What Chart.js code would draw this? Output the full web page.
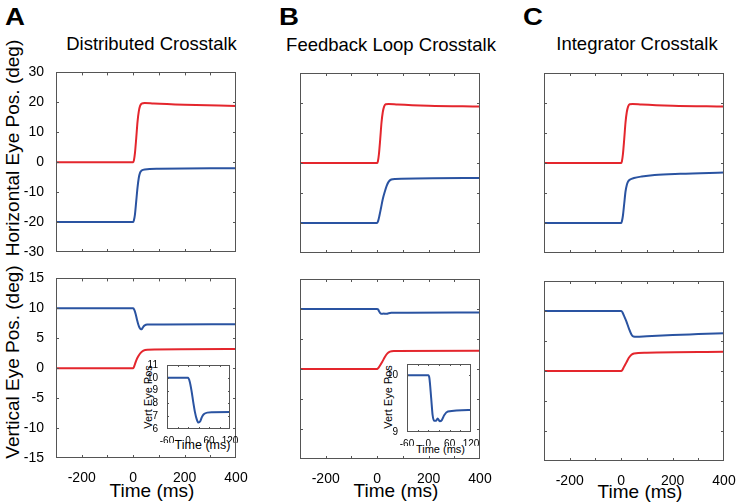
<!DOCTYPE html>
<html lang="en">
<head>
    <meta charset="UTF-8">
    <title>Eye Position Crosstalk</title>
    <script src="https://cdn.jsdelivr.net/npm/chart.js"></script>
    <style>
        body {
            margin: 0;
            width: 737px;
            height: 504px;
            position: relative;
            overflow: hidden;
            background: #fff;
            font-family: Arial, "Liberation Sans", sans-serif;
            color: #000;
        }
        canvas { position: absolute; }
        .lbl {
            position: absolute;
            white-space: nowrap;
            line-height: 1;
            transform: translate(-50%, -50%);
        }
        .rot { transform: translate(-50%, -50%) rotate(-90deg); }
        .letter { font-weight: bold; font-size: 24px; transform: translate(-50%, -50%) scaleX(1.15); }
        .title { font-size: 18.5px; }
        .axis { font-size: 19px; }
    </style>
</head>
<body>
    <div class="lbl letter" style="left:14.5px; top:17px">A</div>
    <div class="lbl letter" style="left:288.5px; top:17px">B</div>
    <div class="lbl letter" style="left:532.5px; top:17px">C</div>

    <div class="lbl title" style="left:151.5px; top:44px">Distributed Crosstalk</div>
    <div class="lbl title" style="left:391px; top:45px">Feedback Loop Crosstalk</div>
    <div class="lbl title" style="left:637px; top:44px">Integrator Crosstalk</div>

    <div class="lbl axis rot" style="left:12px; top:148px">Horizontal Eye Pos. (deg)</div>
    <div class="lbl axis rot" style="left:12px; top:362px">Vertical Eye Pos. (deg)</div>

    <div class="lbl axis" style="left:152px; top:490px">Time (ms)</div>
    <div class="lbl axis" style="left:396px; top:490px">Time (ms)</div>
    <div class="lbl axis" style="left:640px; top:491px">Time (ms)</div>

    <div class="lbl rot" style="left:147.5px; top:397px; font-size:11px">Vert Eye Pos</div>
    <div class="lbl" style="left:202.5px; top:444.5px; font-size:12.5px">Time (ms)</div>
    <div class="lbl rot" style="left:388px; top:397px; font-size:11px">Vert Eye Pos</div>
    <div class="lbl" style="left:440.5px; top:449px; font-size:11px">Time (ms)</div>

    <script>
        // axis ticks
        const timeTicks = [-300, -200, -100, 0, 100, 200, 300, 400];
        const timeLabels = [-200, 0, 200, 400];
        const horizTicks = [-30, -20, -10, 0, 10, 20, 30];
        const vertTicks = [-15, -10, -5, 0, 5, 10, 15];
        const insetTimeTicks = [-60, -30, 0, 30, 60, 90, 120];
        const insetTimeLabels = [-60, 0, 60, 120];
        const insetATicks = [6, 7, 8, 9, 10, 11];
        const insetBTicks = [9, 10];

        // [time (ms), eye position (deg)]
        const distHorizRed = [[-300, 0], [0, 0], [3, 0.6], [7, 3], [12, 8], [17, 13.5], [22, 17], [27, 18.8], [33, 19.6], [45, 19.8], [80, 19.6], [200, 19.2], [400, 18.8]];
        const distHorizBlue = [[-300, -20], [0, -20], [3, -19.4], [7, -17.5], [12, -13], [17, -8.5], [22, -5.2], [27, -3.5], [33, -2.8], [45, -2.4], [100, -2.2], [400, -2.0]];
        const distVertRed = [[-300, 0], [0, 0], [4, 0.3], [8, 0.8], [13, 1.4], [20, 2.0], [30, 2.6], [40, 2.95], [55, 3.1], [400, 3.2]];
        const distVertBlue = [[-300, 10], [0, 10], [5, 9.7], [10, 9.0], [15, 8.1], [20, 7.3], [25, 6.75], [30, 6.5], [35, 6.6], [40, 6.95], [45, 7.15], [55, 7.28], [70, 7.3], [120, 7.32], [400, 7.35]];

        const loopHorizRed = [[-300, 0], [0, 0], [3, 0.6], [7, 3], [12, 8], [17, 13.5], [22, 17], [27, 18.8], [33, 19.6], [45, 19.7], [80, 19.5], [200, 19.1], [400, 18.8]];
        const loopHorizBlue = [[-300, -20], [0, -20], [4, -19.3], [9, -17.5], [15, -15], [22, -12], [30, -9.5], [37, -7.6], [45, -6.2], [55, -5.5], [70, -5.3], [400, -5.0]];
        const loopVertRed = [[-300, 0], [0, 0], [5, 0.2], [10, 0.5], [20, 1.2], [30, 2.0], [40, 2.6], [50, 2.9], [65, 3.0], [400, 3.05]];
        const loopVertBlue = [[-300, 10], [0, 10], [3, 9.95], [8, 9.6], [12, 9.3], [16, 9.2], [22, 9.2], [26, 9.24], [32, 9.19], [38, 9.21], [45, 9.3], [55, 9.36], [120, 9.39], [400, 9.4]];

        const intHorizRed = [[-300, 0], [0, 0], [3, 0.6], [7, 3], [12, 8], [17, 13.5], [22, 17], [27, 18.8], [33, 19.6], [45, 19.7], [80, 19.5], [200, 19.1], [400, 18.8]];
        const intHorizBlue = [[-300, -20], [0, -20], [3, -19.4], [7, -17.5], [12, -13.5], [17, -9.5], [22, -7.3], [27, -6.2], [35, -5.5], [50, -5.0], [80, -4.5], [130, -4.0], [230, -3.6], [400, -3.2]];
        const intVertRed = [[-300, 0], [0, 0], [5, 0.2], [10, 0.6], [20, 1.4], [30, 2.2], [40, 2.7], [50, 2.9], [100, 3.05], [400, 3.2]];
        const intVertBlue = [[-300, 10], [0, 10], [5, 9.8], [10, 9.3], [20, 8.3], [30, 7.1], [40, 6.1], [48, 5.75], [60, 5.7], [100, 5.8], [200, 6.0], [300, 6.15], [400, 6.3]];

        const RED = '#e4262d';
        const BLUE = '#2a53a1';

        Chart.defaults.font.family = 'Arial, "Liberation Sans", sans-serif';
        Chart.defaults.color = '#000';

        // matlab style box with inward tick marks
        const frame = {
            id: 'frame',
            beforeDraw(chart, args, opts) {
                if (!opts.fill) return;
                const a = chart.chartArea;
                chart.ctx.save();
                chart.ctx.fillStyle = '#fff';
                chart.ctx.fillRect(a.left, a.top, a.width, a.height);
                chart.ctx.restore();
            },
            afterDraw(chart, args, opts) {
                const { ctx, chartArea: a, scales: { x, y } } = chart;
                const len = opts.tick;
                ctx.save();
                ctx.strokeStyle = '#555';
                ctx.lineWidth = 1;
                ctx.beginPath();
                x.ticks.forEach(t => {
                    const px = Math.round(x.getPixelForValue(t.value)) + 0.5;
                    if (px <= a.left + 1 || px >= a.right - 1) return;
                    ctx.moveTo(px, a.bottom); ctx.lineTo(px, a.bottom - len);
                    ctx.moveTo(px, a.top); ctx.lineTo(px, a.top + len);
                });
                y.ticks.forEach(t => {
                    const py = Math.round(y.getPixelForValue(t.value)) + 0.5;
                    if (py <= a.top + 1 || py >= a.bottom - 1) return;
                    ctx.moveTo(a.left, py); ctx.lineTo(a.left + len, py);
                    ctx.moveTo(a.right, py); ctx.lineTo(a.right - len, py);
                });
                ctx.stroke();
                ctx.strokeRect(Math.round(a.left) + 0.5, Math.round(a.top) + 0.5,
                    Math.round(a.width) - 1, Math.round(a.height) - 1);
                ctx.restore();
            }
        };

        // box = chart area in page pixels; m = margins for labels
        function panel(box, m, xs, ys, series, o) {
            const cv = document.createElement('canvas');
            const w = m.yW + (box.r - box.l) + m.padR;
            const h = m.padT + (box.b - box.t) + m.xH;
            cv.width = w; cv.height = h;
            cv.style.width = w + 'px'; cv.style.height = h + 'px';
            cv.style.left = (box.l - m.yW) + 'px';
            cv.style.top = (box.t - m.padT) + 'px';
            document.body.appendChild(cv);

            return new Chart(cv, {
                type: 'line',
                data: {
                    datasets: series.map(s => ({
                        data: s.data.map(p => ({ x: p[0], y: p[1] })),
                        borderColor: s.color,
                        borderWidth: 2,
                        pointRadius: 0,
                        fill: false,
                        cubicInterpolationMode: 'monotone'
                    }))
                },
                options: {
                    responsive: false,
                    animation: false,
                    events: [],
                    layout: { padding: { left: 0, top: m.padT, right: m.padR, bottom: 0 } },
                    plugins: {
                        legend: { display: false },
                        tooltip: { enabled: false },
                        frame: { tick: o.tick, fill: o.fill }
                    },
                    scales: {
                        x: {
                            type: 'linear',
                            min: xs.min, max: xs.max,
                            afterBuildTicks: s => { s.ticks = xs.ticks.map(v => ({ value: v })); },
                            afterFit: s => { s.height = m.xH; },
                            grid: { display: false },
                            border: { display: false },
                            ticks: {
                                display: xs.show,
                                autoSkip: false,
                                maxRotation: 0,
                                padding: o.xPad,
                                font: { size: o.font },
                                callback: v => xs.labels.includes(v) ? String(v) : ''
                            }
                        },
                        y: {
                            type: 'linear',
                            min: ys.min, max: ys.max,
                            afterBuildTicks: s => { s.ticks = ys.ticks.map(v => ({ value: v })); },
                            afterFit: s => { s.width = m.yW; },
                            grid: { display: false },
                            border: { display: false },
                            ticks: {
                                display: ys.show,
                                autoSkip: false,
                                padding: o.yPad,
                                font: { size: o.font },
                                callback: v => String(v)
                            }
                        }
                    }
                },
                plugins: [frame]
            });
        }

        const mainTop = { yW: 50, padT: 12, padR: 20, xH: 20 };
        const mainBot = { yW: 50, padT: 12, padR: 20, xH: 30 };
        const mainOpt = { tick: 3, fill: false, font: 14, xPad: 4, yPad: 4 };
        const timeTop = { min: -300, max: 400, ticks: timeTicks, labels: timeLabels, show: false };
        const timeBot = { min: -300, max: 400, ticks: timeTicks, labels: timeLabels, show: true };

        // A
        panel({ l: 56, r: 236, t: 72, b: 252 }, mainTop, timeTop,
            { min: -30, max: 30, ticks: horizTicks, show: true },
            [{ data: distHorizRed, color: RED }, { data: distHorizBlue, color: BLUE }], mainOpt);
        panel({ l: 56, r: 236, t: 278, b: 458 }, mainBot, timeBot,
            { min: -15, max: 15, ticks: vertTicks, show: true },
            [{ data: distVertBlue, color: BLUE }, { data: distVertRed, color: RED }], mainOpt);

        // B
        panel({ l: 300, r: 480, t: 73, b: 253 }, mainTop, timeTop,
            { min: -30, max: 30, ticks: horizTicks, show: false },
            [{ data: loopHorizRed, color: RED }, { data: loopHorizBlue, color: BLUE }], mainOpt);
        panel({ l: 300, r: 480, t: 279, b: 459 }, mainBot, timeBot,
            { min: -15, max: 15, ticks: vertTicks, show: false },
            [{ data: loopVertBlue, color: BLUE }, { data: loopVertRed, color: RED }], mainOpt);

        // C
        panel({ l: 544, r: 724, t: 73, b: 253 }, mainTop, timeTop,
            { min: -30, max: 30, ticks: horizTicks, show: false },
            [{ data: intHorizRed, color: RED }, { data: intHorizBlue, color: BLUE }], mainOpt);
        panel({ l: 544, r: 724, t: 281, b: 461 }, mainBot, timeBot,
            { min: -15, max: 15, ticks: vertTicks, show: false },
            [{ data: intVertBlue, color: BLUE }, { data: intVertRed, color: RED }], mainOpt);

        // insets (blue eye, zoomed around the saccade)
        const insetM = { yW: 22, padT: 8, padR: 12, xH: 14 };
        const insetTime = { min: -60, max: 120, ticks: insetTimeTicks, labels: insetTimeLabels, show: true };
        panel({ l: 167, r: 230, t: 365, b: 429 }, insetM, insetTime,
            { min: 6, max: 11, ticks: insetATicks, show: true },
            [{ data: distVertBlue, color: BLUE }], { tick: 2, fill: true, font: 10, xPad: -2, yPad: 1 });
        panel({ l: 407, r: 471, t: 364, b: 432 }, insetM, insetTime,
            { min: 9, max: 10.2, ticks: insetBTicks, show: true },
            [{ data: loopVertBlue, color: BLUE }], { tick: 2, fill: true, font: 10, xPad: -2, yPad: 1 });
    </script>
</body>
</html>
